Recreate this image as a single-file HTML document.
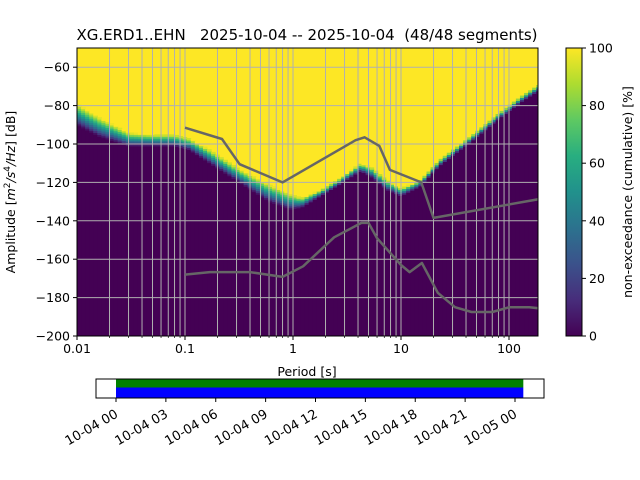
<!DOCTYPE html>
<html><head><meta charset="utf-8"><style>
html,body{margin:0;padding:0;background:#fff}
svg{display:block;font-family:"DejaVu Sans","Liberation Sans",sans-serif}
</style></head><body>
<svg id="s" width="640" height="480" xmlns="http://www.w3.org/2000/svg">
<text x="307" y="40" font-size="15" text-anchor="middle" style="white-space:pre" xml:space="preserve">XG.ERD1..EHN   2025-10-04 -- 2025-10-04  (48/48 segments)</text>
<clipPath id="cp"><rect x="77" y="48" width="461" height="288"/></clipPath>
<g id="heat" clip-path="url(#cp)"></g>
<g id="grid" clip-path="url(#cp)"></g>
<g id="models" clip-path="url(#cp)"></g>
<rect x="77" y="48" width="461" height="288" fill="none" stroke="#000" stroke-width="1"/>
<g id="axes" font-size="12.5"></g>
<text x="307" y="376" font-size="12.5" text-anchor="middle">Period [s]</text>
<text transform="translate(15,192) rotate(-90)" font-size="12.5" text-anchor="middle">Amplitude [<tspan font-style="italic">m</tspan><tspan font-size="9" dy="-5">2</tspan><tspan dy="5" font-style="italic">/s</tspan><tspan font-size="9" dy="-5">4</tspan><tspan dy="5" font-style="italic">/Hz</tspan>] [dB]</text>
<defs><linearGradient id="vir" x1="0" y1="1" x2="0" y2="0">
<stop offset="0" stop-color="#440154"/><stop offset="0.125" stop-color="#472d7b"/><stop offset="0.25" stop-color="#3b528b"/><stop offset="0.375" stop-color="#2c728e"/><stop offset="0.5" stop-color="#21918c"/><stop offset="0.625" stop-color="#28ae80"/><stop offset="0.75" stop-color="#5ec962"/><stop offset="0.875" stop-color="#addc30"/><stop offset="1" stop-color="#fde725"/></linearGradient></defs>
<rect x="566" y="48" width="16" height="288" fill="url(#vir)" stroke="#000" stroke-width="1"/>
<g id="cbt" font-size="12.5"></g>
<text transform="translate(632,192) rotate(-90)" font-size="12.5" text-anchor="middle">non-exceedance (cumulative) [%]</text>
<g id="tl"></g>
</svg>
<script>
const NS="http://www.w3.org/2000/svg";
const periods=[0.01,0.016,0.03,0.05,0.08,0.11,0.17,0.32,0.6,0.95,1.2,1.8,2.7,4.2,5.3,7.5,10,15,23,44,80,130,190];
const edgeDb=[-79,-86,-94,-95,-95,-97,-103,-113,-121,-126,-128,-124,-118,-110,-112,-119,-123,-119,-108,-96,-84,-75,-69];
const spreadDb=[11,10,7,6,6,6,7,7,9,8,5,3,3,4,5,5,4,3,3,3,3,3,3];
const nhnmP=[0.1,0.22,0.32,0.8,3.8,4.6,6.3,7.9,15.4,20,354];
const nhnmDb=[-91.5,-97.4,-110.5,-120,-98,-96.5,-101,-113.5,-120,-138.5,-126];
const nlnmP=[0.1,0.17,0.4,0.8,1.24,2.4,4.3,5,6,10,12,15.6,21.9,31.6,45,70,101,154,186];
const nlnmDb=[-168,-166.7,-166.7,-169.2,-163.7,-148.6,-141.1,-141.1,-149,-163,-166.7,-162,-177.5,-185,-187.5,-187.5,-185,-185,-185.5];
const xTicks=[0.01,0.1,1,10,100];
const xTickLabels=["0.01","0.1","1","10","100"];
const yTicks=[-60,-80,-100,-120,-140,-160,-180,-200];
const cbTicks=[0,20,40,60,80,100];
const timeTicks=["10-04 00","10-04 03","10-04 06","10-04 09","10-04 12","10-04 15","10-04 18","10-04 21","10-05 00"];
const segStartH=0, segEndH=24.5;

const X=p=>77+(Math.log10(p)+2)*108;
const Y=d=>48+(-50-d)*1.92;
const vir=["#440154","#472d7b","#3b528b","#2c728e","#21918c","#28ae80","#5ec962","#addc30","#fde725"];
function hx(c){return [1,3,5].map(i=>parseInt(c.substr(i,2),16));}
function vcol(t){t=Math.max(0,Math.min(1,t));const f=t*8,i=Math.min(7,Math.floor(f)),r=f-i;const a=hx(vir[i]),b=hx(vir[i+1]);return `rgb(${a.map((v,k)=>Math.round(v+(b[k]-v)*r)).join(",")})`;}
function interp(xs,ys,x){const lx=Math.log10(x);if(x<=xs[0])return ys[0];for(let i=1;i<xs.length;i++){if(x<=xs[i]){const a=Math.log10(xs[i-1]),b=Math.log10(xs[i]);return ys[i-1]+(ys[i]-ys[i-1])*(lx-a)/(b-a);}}return ys[ys.length-1];}
function mk(tag,attrs,parent){const e=document.createElementNS(NS,tag);for(const k in attrs)e.setAttribute(k,attrs[k]);parent.appendChild(e);return e;}
const heat=document.getElementById('heat');
mk('rect',{x:77,y:48,width:461,height:288,fill:"#fde725"},heat);
const step=Math.log10(2)/8;
for(let lp=-2;lp<2.3;lp+=step){
  const p=Math.pow(10,lp+step/2),x0=X(Math.pow(10,lp)),x1=X(Math.pow(10,lp+step));
  const e=interp(periods,edgeDb,p),s=interp(periods,spreadDb,p);
  const bot=e-s;
  const c=mk('rect',{x:x0,y:Y(bot),width:x1-x0+0.5,height:336-Y(bot)+1,fill:"#440154"},heat);
  
  
  for(let d=bot;d<e;d+=1){
    const r=mk('rect',{x:x0,y:Y(d+1),width:x1-x0+0.5,height:2.4,fill:vcol((d+0.5-bot)/s)},heat);
    
    
  }
}
const grid=document.getElementById('grid');
for(let dec=-2;dec<3;dec++)for(let m=1;m<10;m++){const p=m*Math.pow(10,dec);if(p>190)break;const x=X(p);
  const l=mk('line',{x1:x,x2:x,y1:48,y2:336,stroke:"#b0b0b0","stroke-width":1},grid);
  
  }
yTicks.forEach(v=>{const l=mk('line',{x1:77,x2:538,y1:Y(v),y2:Y(v),stroke:"#b0b0b0","stroke-width":1},grid);
  
  });
const models=document.getElementById('models');
function poly(P,D,name){const pts=P.map((p,i)=>X(p).toFixed(1)+","+Y(D[i]).toFixed(1)).join(" ");
  const pl=mk('polyline',{points:pts,fill:"none",stroke:"#666","stroke-width":2.5,"stroke-linejoin":"round"},models);
  
  }
poly(nhnmP,nhnmDb,'nhnm-line');poly(nlnmP,nlnmDb,'nlnm-line');
const axes=document.getElementById('axes');
xTicks.forEach((p,i)=>{const x=X(p);mk('line',{x1:x,x2:x,y1:336,y2:340,stroke:"#000"},axes);
  const t=mk('text',{x:x,y:353,"text-anchor":"middle"},axes);t.textContent=xTickLabels[i];
  
  });
for(let dec=-2;dec<3;dec++)for(let m=2;m<10;m++){const p=m*Math.pow(10,dec);if(p>186)break;const x=X(p);mk('line',{x1:x,x2:x,y1:336,y2:338,stroke:"#000","stroke-width":0.7},axes);}
yTicks.forEach(v=>{const y=Y(v);mk('line',{x1:73,x2:77,y1:y,y2:y,stroke:"#000"},axes);
  const t=mk('text',{x:70,y:y+4.5,"text-anchor":"end"},axes);t.textContent=String(v).replace('-','\u2212');
  
  });
const cbt=document.getElementById('cbt');
cbTicks.forEach(v=>{const y=336-v*2.88;mk('line',{x1:582,x2:586,y1:y,y2:y,stroke:"#000"},cbt);
  const t=mk('text',{x:589,y:y+4.5},cbt);t.textContent=v;
  
  });
const tl=document.getElementById('tl');
const T=h=>116+h*(399/24);
mk('rect',{x:T(segStartH),y:379,width:T(segEndH)-T(segStartH),height:8.5,fill:"#008000"},tl);
mk('rect',{x:T(segStartH),y:387.5,width:T(segEndH)-T(segStartH),height:10,fill:"#0000ff"},tl);
mk('rect',{x:96,y:379,width:448,height:19,fill:"none",stroke:"#000"},tl);
timeTicks.forEach((s,i)=>{const x=T(i*3);mk('line',{x1:x,x2:x,y1:398,y2:402,stroke:"#000"},tl);
  const t=mk('text',{transform:`translate(${x-2},${408}) rotate(-30)`,"text-anchor":"end","font-size":13,dy:"0.75em"},tl);t.textContent=s;
  
  });
</script>
</body></html>
